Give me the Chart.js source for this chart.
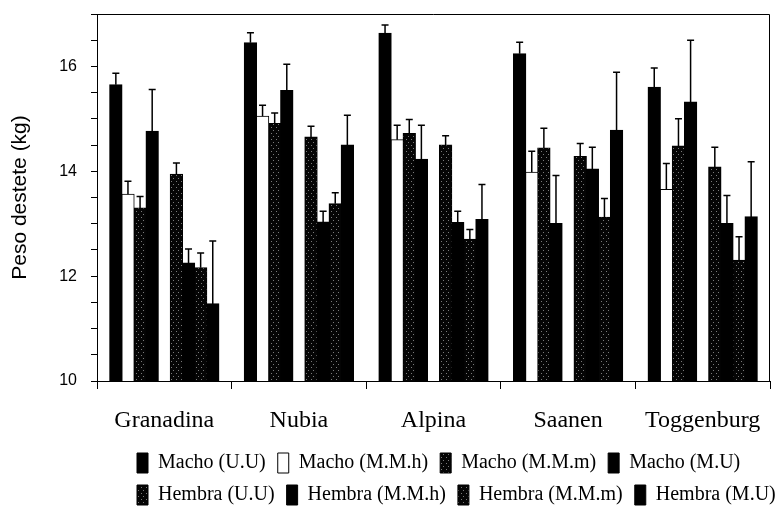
<!DOCTYPE html>
<html>
<head>
<meta charset="utf-8">
<script src="https://cdn.jsdelivr.net/npm/chart.js@4.4.0/dist/chart.umd.min.js"></script>
<style>
  html, body { margin: 0; padding: 0; background: #fff; }
</style>
</head>
<body>
<canvas id="bar-chart" width="779" height="515"></canvas>
<script>
// razas y series (peso al destete, kg)
var razas = ["Granadina", "Nubia", "Alpina", "Saanen", "Toggenburg"]
var yTicks = [10, 12, 14, 16]

var machoUU   = [15.65, 16.45, 16.63, 16.24, 15.60]
var machoMMh  = [13.56, 15.05, 14.60, 13.98, 13.65]
var machoMMm  = [13.30, 14.91, 14.72, 14.44, 14.48]
var machoMU   = [14.76, 15.54, 14.23, 13.00, 15.32]
var hembraUU  = [13.94, 14.65, 14.50, 14.28, 14.08]
var hembraMMh = [12.25, 13.03, 13.02, 14.04, 13.00]
var hembraMMm = [12.16, 13.38, 12.70, 13.12, 12.30]
var hembraMU  = [11.47, 14.50, 13.08, 14.78, 13.13]

// error estandar (solo hacia arriba)
var machoUUErr   = [0.22, 0.19, 0.16, 0.22, 0.37]
var machoMMhErr  = [0.25, 0.21, 0.28, 0.40, 0.50]
var machoMMmErr  = [0.22, 0.20, 0.27, 0.38, 0.52]
var machoMUErr   = [0.80, 0.50, 0.65, 0.92, 1.18]
var hembraUUErr  = [0.22, 0.21, 0.18, 0.25, 0.38]
var hembraMMhErr = [0.27, 0.21, 0.22, 0.42, 0.54]
var hembraMMmErr = [0.28, 0.21, 0.19, 0.36, 0.45]
var hembraMUErr  = [1.20, 0.57, 0.67, 1.11, 1.05]

var trama = (function(){
  var c = document.createElement('canvas')
  c.width = 5; c.height = 6
  var g = c.getContext('2d')
  g.fillStyle = '#050505'; g.fillRect(0, 0, 5, 6)
  g.fillStyle = '#7a7a7a'; g.fillRect(1, 1, 1, 1); g.fillRect(3, 4, 1, 1)
  return g.createPattern(c, 'repeat')
})()

var serie = (label, data, err, fill) => ({
  label: label, data: data, err: err,
  backgroundColor: fill, borderColor: '#000', borderWidth: 1,
  inflateAmount: 0.6,
  barPercentage: 1, categoryPercentage: 0.81
})

var errorBars = {
  id: 'errorBars',
  afterDatasetsDraw(chart) {
    var ctx = chart.ctx, y = chart.scales.y
    ctx.save()
    ctx.strokeStyle = '#000'
    ctx.lineWidth = 1.5
    chart.data.datasets.forEach((ds, i) => {
      if (!ds.err) return
      chart.getDatasetMeta(i).data.forEach((bar, j) => {
        var top = y.getPixelForValue(ds.data[j] + ds.err[j])
        ctx.beginPath()
        ctx.moveTo(bar.x, bar.y); ctx.lineTo(bar.x, top)
        ctx.moveTo(bar.x - 3.5, top); ctx.lineTo(bar.x + 3.5, top)
        ctx.stroke()
      })
    })
    ctx.restore()
  }
}

var marco = {
  id: 'marco',
  beforeLayout(chart) {
    // cuatro entradas por fila en la leyenda
    var lg = chart.legend
    if (lg && !lg.fitRowsOrig) {
      lg.fitRowsOrig = lg._fitRows
      lg._fitRows = function () {
        var m = this.maxWidth
        this.maxWidth = 700
        var h = this.fitRowsOrig.apply(this, arguments)
        this.maxWidth = m
        return h
      }
    }
  },
  afterLayout(chart) {
    chart.legend.left += 125
    chart.legend.right += 125
  },
  afterDraw(chart) {
    var a = chart.chartArea, ctx = chart.ctx
    ctx.save()
    ctx.strokeStyle = '#000'
    ctx.lineWidth = 1
    ctx.beginPath()
    ctx.moveTo(a.left, a.top + 0.5); ctx.lineTo(a.right - 0.5, a.top + 0.5); ctx.lineTo(a.right - 0.5, a.bottom)
    ctx.stroke()
    ctx.restore()
  }
}

new Chart(document.getElementById("bar-chart"), {
  type: 'bar',
  data: {
    labels: razas,
    datasets: [
      serie("Macho (U.U)", machoUU, machoUUErr, '#000'),
      serie("Macho (M.M.h)", machoMMh, machoMMhErr, '#fff'),
      serie("Macho (M.M.m)", machoMMm, machoMMmErr, trama),
      serie("Macho (M.U)", machoMU, machoMUErr, '#000'),
      serie("", [null, null, null, null, null], null, '#fff'),
      serie("Hembra (U.U)", hembraUU, hembraUUErr, trama),
      serie("Hembra (M.M.h)", hembraMMh, hembraMMhErr, '#000'),
      serie("Hembra (M.M.m)", hembraMMm, hembraMMmErr, trama),
      serie("Hembra (M.U)", hembraMU, hembraMUErr, '#000')
    ]
  },
  options: {
    responsive: false,
    animation: false,
    devicePixelRatio: 1,
    layout: { padding: { top: 14, right: 9, bottom: 0, left: 0 } },
    plugins: {
      tooltip: { enabled: false },
      legend: {
        position: 'bottom',
        align: 'start',
        labels: {
          filter: item => item.text !== '',
          color: '#000',
          boxWidth: 11,
          boxHeight: 20,
          padding: 12,
          font: { family: 'Liberation Serif', size: 20 }
        }
      }
    },
    scales: {
      x: {
        afterFit: s => { s.height = 60 },
        grid: { display: true, drawOnChartArea: false, color: '#000', tickLength: 8 },
        border: { display: true, color: '#000', width: 1 },
        ticks: { color: '#000', padding: 17, font: { family: 'Liberation Serif', size: 24 } }
      },
      y: {
        min: 10,
        max: 17,
        afterFit: s => { s.width = 97; s.paddingTop = 0; s.paddingBottom = 0 },
        grid: { display: true, drawOnChartArea: false, color: '#000', tickLength: 6 },
        border: { display: true, color: '#000', width: 1 },
        ticks: {
          stepSize: 0.5,
          autoSkip: false,
          maxTicksLimit: 20,
          color: '#000',
          padding: 14,
          font: { family: 'Liberation Sans', size: 16 },
          callback: v => yTicks.includes(v) ? v : ''
        },
        title: {
          display: true,
          text: 'Peso destete (kg)',
          color: '#000',
          padding: { top: 8, bottom: 4 },
          font: { family: 'Liberation Sans', size: 21 }
        }
      }
    }
  },
  plugins: [errorBars, marco]
});
</script>
</body>
</html>
